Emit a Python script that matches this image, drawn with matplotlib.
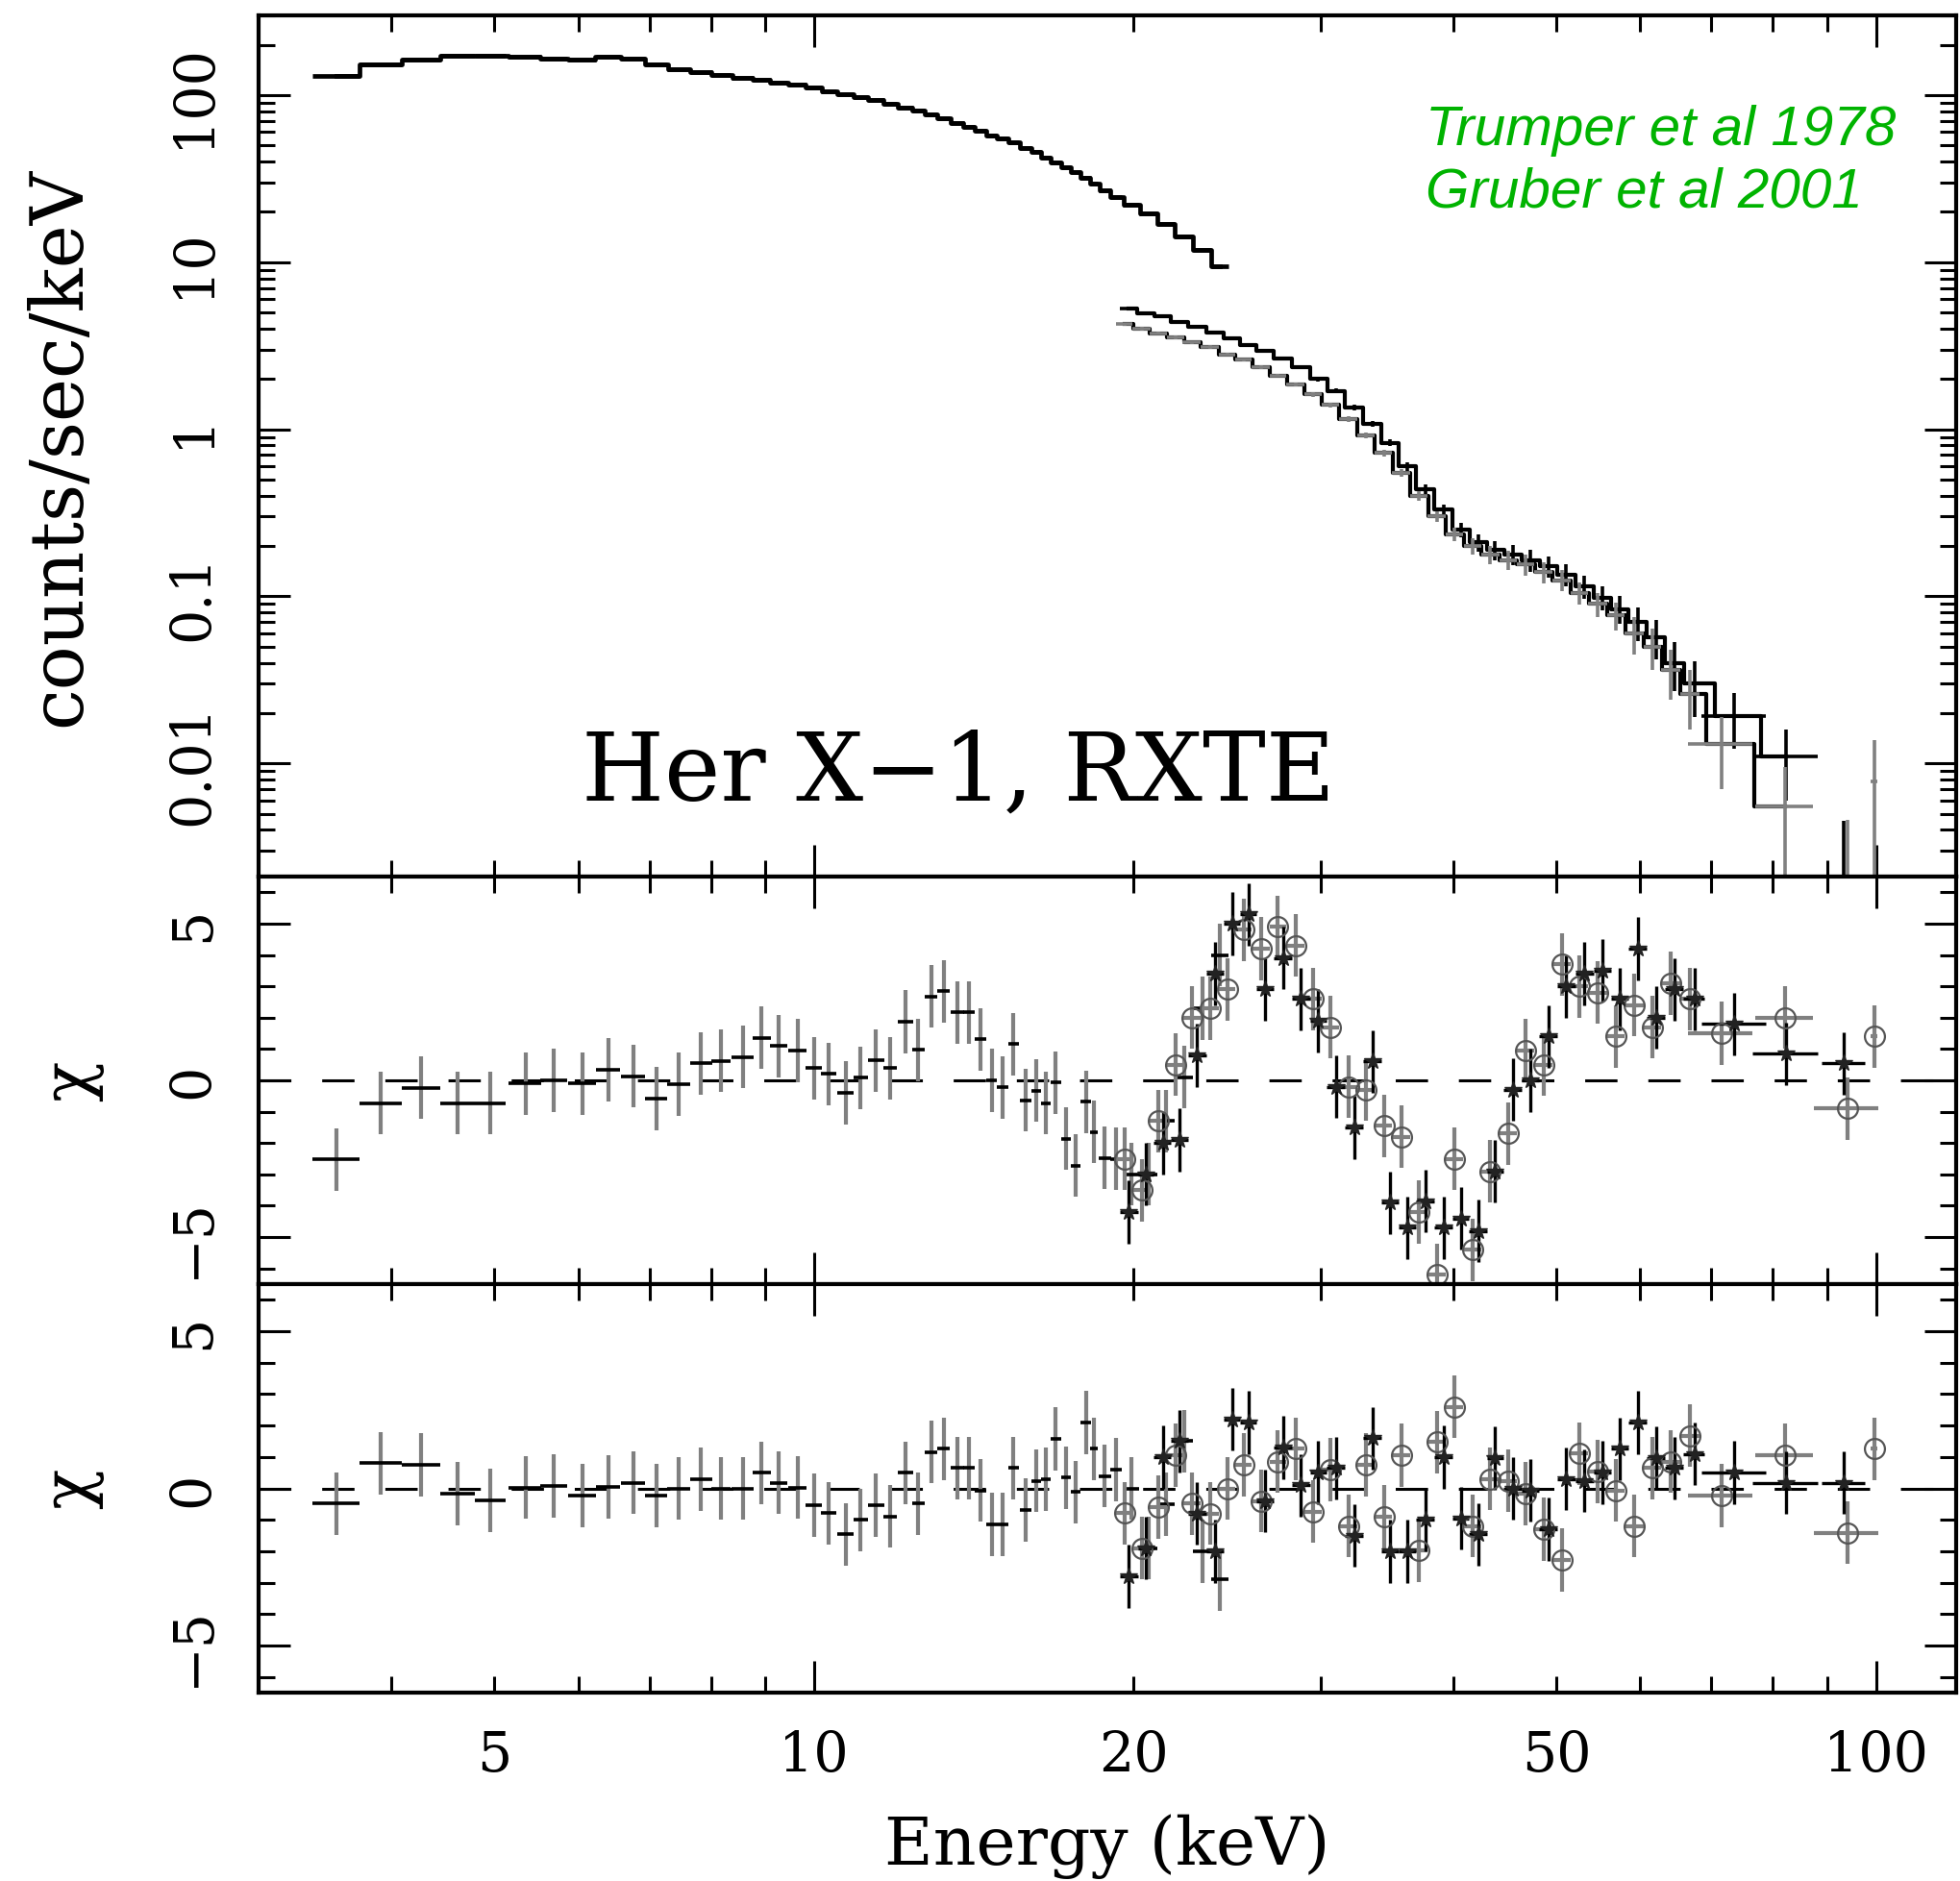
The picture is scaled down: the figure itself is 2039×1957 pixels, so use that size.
import matplotlib
matplotlib.use("Agg")
import matplotlib.pyplot as plt
import numpy as np
from matplotlib.ticker import FixedLocator, FixedFormatter, NullFormatter, LogLocator, MultipleLocator

# PCA: bin centre (keV), half width, counts/sec/keV, residuals without / with cyclotron line
pca_e = [3.55, 3.91, 4.27, 4.62, 4.96, 5.35, 5.69, 6.05, 6.4, 6.76,
         7.11, 7.46, 7.83, 8.18, 8.57, 8.93, 9.27, 9.65, 10.0, 10.33,
         10.71, 11.07, 11.44, 11.8, 12.2, 12.54, 12.89, 13.25, 13.64, 13.99,
         14.36, 14.7, 15.06, 15.42, 15.84, 16.19, 16.53, 16.9, 17.28, 17.64,
         18.03, 18.35, 18.79, 19.25, 19.9, 20.65, 21.45, 22.3, 23.2, 24.1]
pca_hw = [0.18, 0.18, 0.18, 0.17, 0.17, 0.19, 0.17, 0.18, 0.17, 0.18,
          0.17, 0.18, 0.19, 0.17, 0.2, 0.18, 0.17, 0.2, 0.17, 0.17,
          0.2, 0.17, 0.2, 0.18, 0.2, 0.17, 0.18, 0.18, 0.2, 0.17,
          0.18, 0.17, 0.18, 0.19, 0.2, 0.17, 0.18, 0.19, 0.19, 0.18,
          0.2, 0.15, 0.25, 0.25, 0.35, 0.4, 0.4, 0.45, 0.45, 0.45]
pca_rate = [131, 152, 164, 172, 172, 170, 165, 163, 170, 166,
            152, 143, 137, 132, 127, 123, 119, 115, 111, 106,
            101, 97, 93, 89, 84.5, 80.5, 76.5, 72.5, 68, 64.5,
            61, 57.5, 55, 52.5, 48.5, 45.5, 42.5, 39.5, 37, 34.5,
            32, 29.5, 27, 24.5, 22, 19.5, 17, 14.3, 11.8, 9.4]
pca_chi_nocyc = [-2.52, -0.73, -0.24, -0.73, -0.73, -0.1, 0.0, -0.1, 0.34, 0.13,
                 -0.58, -0.12, 0.54, 0.62, 0.74, 1.36, 1.1, 0.95, 0.39, 0.21,
                 -0.4, 0.08, 0.64, 0.39, 1.87, 0.97, 2.68, 2.84, 2.17, 2.17,
                 1.31, 0.0, -0.22, 1.15, -0.63, -0.33, -0.73, -0.07, -1.86, -2.72,
                 -0.68, -1.65, -2.47, -2.5, -3.0, -3.0, -1.3, 0.1, 2.3, 4.0]
pca_chi_cyc = [-0.48, 0.8, 0.75, -0.17, -0.38, 0.03, 0.08, -0.23, 0.05, 0.18,
               -0.23, 0.0, 0.29, 0.0, 0.0, 0.49, 0.18, 0.03, -0.53, -0.79,
               -1.46, -1.0, -0.53, -0.89, 0.49, -0.48, 1.16, 1.26, 0.65, 0.65,
               -0.07, -1.15, -1.15, 0.65, -0.69, 0.24, 0.29, 1.57, 0.34, -0.12,
               2.09, 1.26, 0.39, 0.6, 0.0, -1.9, -0.5, 1.5, -2.0, -2.9]

# HEXTE cluster A
hxa_e = [19.8, 20.55, 21.3, 22.1, 22.95, 23.85, 24.75, 25.65, 26.6, 27.65,
         28.75, 29.85, 31.0, 32.25, 33.55, 34.85, 36.2, 37.65, 39.15, 40.65,
         42.2, 43.8, 45.5, 47.3, 49.15, 51.1, 53.15, 55.25, 57.4, 59.65,
         62.05, 64.6, 67.45, 73.6, 82.3, 93.3]
hxa_hw = [0.4, 0.35, 0.4, 0.4, 0.45, 0.45, 0.45, 0.45, 0.5, 0.55,
          0.55, 0.55, 0.6, 0.65, 0.65, 0.65, 0.7, 0.75, 0.75, 0.75,
          0.8, 0.8, 0.9, 0.9, 0.95, 1.0, 1.05, 1.05, 1.1, 1.15,
          1.25, 1.3, 1.55, 5.1, 5.8, 4.4]
hxa_rate = [5.3, 4.95, 4.75, 4.4, 4.1, 3.8, 3.5, 3.2, 2.95, 2.65,
            2.35, 2.0, 1.7, 1.35, 1.08, 0.83, 0.6, 0.44, 0.33, 0.25,
            0.21, 0.19, 0.178, 0.165, 0.152, 0.135, 0.115, 0.098, 0.084, 0.07,
            0.057, 0.04, 0.03, 0.0193, 0.011, 0.0015]
hxa_err = [0.1, 0.1, 0.09, 0.09, 0.08, 0.08, 0.07, 0.07, 0.07, 0.06,
           0.06, 0.06, 0.05, 0.05, 0.045, 0.04, 0.035, 0.03, 0.025, 0.025,
           0.025, 0.025, 0.025, 0.025, 0.022, 0.02, 0.018, 0.016, 0.016, 0.016,
           0.015, 0.013, 0.011, 0.007, 0.005, 0.003]
hxa_chi_nocyc = [-4.2, -3.0, -2.0, -1.9, 0.8, 3.4, 5.0, 5.3, 2.9, 3.9,
                 2.6, 1.9, -0.2, -1.5, 0.6, -3.9, -4.7, -3.85, -4.7, -4.4,
                 -4.8, -2.9, -0.3, 0.0, 1.4, 3.0, 3.4, 3.5, 2.6, 4.2,
                 2.0, 2.9, 2.6, 1.8, 0.85, 0.54]
hxa_chi_cyc = [-2.8, -1.9, 1.0, 1.5, -0.8, -2.0, 2.2, 2.1, -0.4, 1.3,
               0.1, 0.5, 0.65, -1.5, 1.6, -2.0, -2.0, -1.0, 1.0, -0.95,
               -1.46, 0.96, 0.0, -0.07, -1.3, 0.3, 0.24, 0.5, 1.26, 2.1,
               0.96, 0.65, 1.1, 0.5, 0.18, 0.18]

# HEXTE cluster B
hxb_e = [19.6, 20.35, 21.1, 21.9, 22.7, 23.6, 24.5, 25.4, 26.35, 27.35,
         28.4, 29.5, 30.65, 31.85, 33.1, 34.4, 35.75, 37.15, 38.6, 40.1,
         41.7, 43.35, 45.05, 46.8, 48.65, 50.6, 52.6, 54.7, 56.9, 59.2,
         61.6, 64.1, 66.8, 71.5, 82.1, 94.0, 99.6]
hxb_hw = [0.35, 0.4, 0.4, 0.4, 0.45, 0.45, 0.45, 0.45, 0.5, 0.5,
          0.55, 0.55, 0.6, 0.6, 0.65, 0.65, 0.7, 0.7, 0.75, 0.75,
          0.8, 0.85, 0.85, 0.9, 0.95, 1.0, 1.0, 1.1, 1.1, 1.2,
          1.2, 1.3, 1.4, 5.0, 5.2, 6.5, 0.8]
hxb_rate = [4.25, 4.0, 3.75, 3.55, 3.3, 3.1, 2.8, 2.6, 2.35, 2.1,
            1.85, 1.62, 1.4, 1.15, 0.92, 0.72, 0.55, 0.4, 0.3, 0.235,
            0.2, 0.178, 0.165, 0.155, 0.14, 0.125, 0.105, 0.09, 0.077, 0.06,
            0.05, 0.036, 0.026, 0.013, 0.0055, 0.0008, 0.0078]
hxb_err = [0.09, 0.09, 0.08, 0.08, 0.07, 0.07, 0.06, 0.06, 0.06, 0.05,
           0.05, 0.05, 0.045, 0.04, 0.04, 0.035, 0.03, 0.025, 0.022, 0.022,
           0.022, 0.022, 0.022, 0.022, 0.02, 0.018, 0.016, 0.015, 0.015, 0.015,
           0.014, 0.012, 0.01, 0.006, 0.004, 0.0038, 0.006]
hxb_chi_nocyc = [-2.5, -3.5, -1.3, 0.5, 2.0, 2.3, 2.9, 4.8, 4.2, 4.9,
                 4.3, 2.6, 1.7, -0.2, -0.3, -1.45, -1.8, -4.2, -6.2, -2.5,
                 -5.4, -2.9, -1.7, 0.95, 0.5, 3.7, 3.0, 2.8, 1.4, 2.4,
                 1.7, 3.1, 2.6, 1.5, 2.0, -0.9, 1.4]
hxb_chi_cyc = [-0.79, -1.9, -0.6, 1.06, -0.48, -0.8, 0.0, 0.75, -0.4, 0.85,
               1.26, -0.74, 0.6, -1.2, 0.75, -0.9, 1.06, -1.97, 1.47, 2.6,
               -1.2, 0.3, 0.24, -0.17, -1.3, -2.28, 1.11, 0.54, -0.07, -1.2,
               0.65, 0.85, 1.68, -0.23, 1.06, -1.41, 1.26]

x_major = [10, 100]
x_minor = [4, 5, 6, 7, 8, 9, 20, 30, 40, 50, 60, 70, 80, 90]
x_minor_labels = ["", "5", "", "", "", "", "20", "", "", "50", "", "", "", ""]

GRAY = "#808080"
W, H, DPI = 2039, 1958, 100

plt.rcParams["font.family"] = ["DejaVu Serif"]


def box(x0, y0, x1, y1):
    # pixel box measured from the top-left -> figure fraction rect
    return [x0 / W, 1 - y1 / H, (x1 - x0) / W, (y1 - y0) / H]


def style_axis(ax, show_xlabels):
    ax.set_xscale("log")
    ax.set_xlim(3.0, 119)
    ax.xaxis.set_major_locator(FixedLocator(x_major))
    ax.xaxis.set_minor_locator(FixedLocator(x_minor))
    if show_xlabels:
        ax.xaxis.set_major_formatter(FixedFormatter(["10", "100"]))
        ax.xaxis.set_minor_formatter(FixedFormatter(x_minor_labels))
    else:
        ax.xaxis.set_major_formatter(NullFormatter())
        ax.xaxis.set_minor_formatter(NullFormatter())
    ax.tick_params(which="both", direction="in", top=True, right=True,
                   width=2.2, color="k", labelsize=41, pad=27)
    ax.tick_params(which="major", length=24)
    ax.tick_params(which="minor", length=12)
    ax.tick_params(axis="y", which="both", labelrotation=90, pad=29)
    for s in ax.spines.values():
        s.set_linewidth(3)


def chi_panel(ax, chi_pca, chi_a, chi_b):
    ax.set_ylim(-6.5, 6.5)
    ax.yaxis.set_major_locator(FixedLocator([-5, 0, 5]))
    ax.yaxis.set_major_formatter(FixedFormatter(["\u22125", "0", "5"]))
    ax.yaxis.set_minor_locator(MultipleLocator(1))
    ax.axhline(0, color="k", lw=2.2, ls=(0, (11, 10.5)), zorder=1)
    ax.errorbar(pca_e, chi_pca, yerr=1, fmt="none", ecolor=GRAY, elinewidth=3)
    ax.errorbar(pca_e, chi_pca, xerr=pca_hw, fmt="none", ecolor="k", elinewidth=2.6)
    ax.errorbar(hxb_e, chi_b, xerr=hxb_hw, yerr=1, fmt="o", ms=15, mfc="none",
                mec="#555555", mew=1.6, ecolor=GRAY, elinewidth=3)
    ax.errorbar(hxa_e, chi_a, xerr=hxa_hw, yerr=1, fmt="*", ms=13, color="#222222",
                ecolor="k", elinewidth=2.4)


fig = plt.figure(figsize=(W / DPI, H / DPI), dpi=DPI)
ax1 = fig.add_axes(box(269, 17, 2035, 913))
ax2 = fig.add_axes(box(269, 913, 2035, 1337))
ax3 = fig.add_axes(box(269, 1337, 2035, 1762))

# --- count spectrum ---
ax1.set_yscale("log")
ax1.step(pca_e, pca_rate, where="mid", color="k", lw=3.4)
ax1.errorbar(pca_e, pca_rate, xerr=pca_hw, fmt="none", ecolor="k", elinewidth=3.4)
ax1.step(hxa_e[:-1], hxa_rate[:-1], where="mid", color="k", lw=3)
ax1.errorbar(hxa_e, hxa_rate, xerr=hxa_hw, yerr=hxa_err, fmt="none",
             ecolor="k", elinewidth=2.6)
ax1.step(hxb_e[:-2], hxb_rate[:-2], where="mid", color="k", lw=3)
ax1.errorbar(hxb_e, hxb_rate, xerr=hxb_hw, yerr=hxb_err, fmt="none",
             ecolor=GRAY, elinewidth=2.6)
ax1.set_ylim(0.0021, 300)
ax1.yaxis.set_major_locator(FixedLocator([0.01, 0.1, 1, 10, 100]))
ax1.yaxis.set_major_formatter(FixedFormatter(["0.01", "0.1", "1", "10", "100"]))
ax1.yaxis.set_minor_locator(LogLocator(base=10, subs=np.arange(2, 10), numticks=20))
ax1.yaxis.set_minor_formatter(NullFormatter())

ax1.text(0.19, 0.09, "Her X\u22121, RXTE", transform=ax1.transAxes,
         fontsize=71, va="baseline", ha="left")
green = dict(transform=ax1.transAxes, fontsize=42, color="#00b300", style="italic",
             family="Liberation Sans", va="baseline", ha="left")
ax1.text(0.6875, 0.850, "Trumper et al 1978", **green)
ax1.text(0.6875, 0.779, "Gruber et al 2001", **green)

# --- residuals ---
chi_panel(ax2, pca_chi_nocyc, hxa_chi_nocyc, hxb_chi_nocyc)
chi_panel(ax3, pca_chi_cyc, hxa_chi_cyc, hxb_chi_cyc)

style_axis(ax1, False)
style_axis(ax2, False)
style_axis(ax3, True)
for ax in (ax1, ax2, ax3):
    for lab in ax.get_yticklabels():
        lab.set_va("center")

fig.text(62 / W, 1 - 465 / H, "counts/sec/keV", rotation=90, fontsize=55,
         ha="center", va="center")
fig.text(75 / W, 1 - 1125 / H, "\u03c7", rotation=90, fontsize=50,
         ha="center", va="center")
fig.text(75 / W, 1 - 1549 / H, "\u03c7", rotation=90, fontsize=50,
         ha="center", va="center")
fig.text(1152 / W, 1 - 1921 / H, "Energy (keV)", fontsize=50,
         ha="center", va="center")

fig.savefig("out.png", dpi=DPI)
